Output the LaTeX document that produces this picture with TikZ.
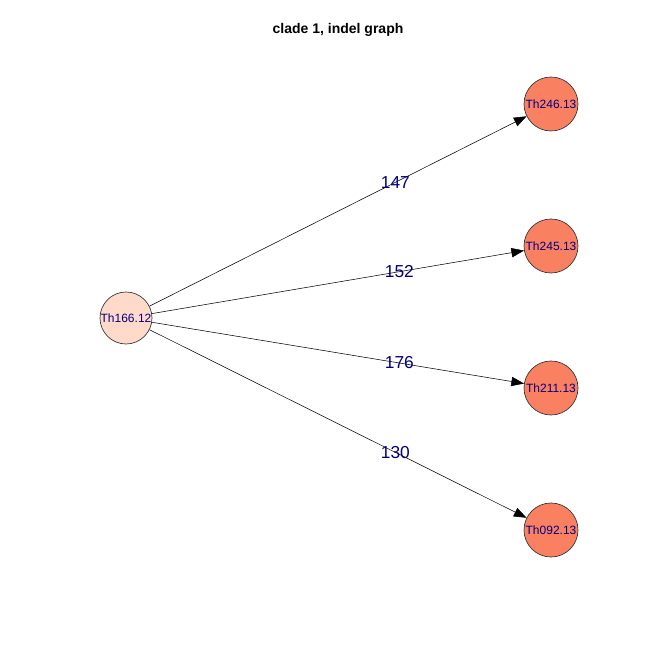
\documentclass[tikz,border=0pt]{standalone}
\usepackage{fontspec}
\setmainfont{Liberation Sans}
\usepackage{tikz}
\usetikzlibrary{arrows.meta}
\definecolor{labelnavy}{HTML}{000080}
\definecolor{rootfill}{HTML}{FFDACA}
\definecolor{leaffill}{HTML}{FA8062}

\begin{document}
\begin{tikzpicture}[
    x=0.75pt, y=0.75pt,
    vert/.style={circle, draw=black!80, line width=0.5pt, inner sep=0pt,
                 font=\fontsize{9}{10}\selectfont, text=labelnavy},
    root/.style={vert, fill=rootfill, minimum size=39pt},
    leaf/.style={vert, fill=leaffill, minimum size=40.5pt},
    arr/.style={-{Triangle[length=9.5pt, width=7pt]}, line width=0.4pt, black},
    elab/.style={font=\fontsize{13}{14}\selectfont, text=labelnavy, inner sep=0pt},
  ]
  \useasboundingbox (0,0) rectangle (648,648);
  \node[font=\bfseries\fontsize{10.5}{12}\selectfont] (title) at (338,618) {clade 1, indel graph};
  \node[root] (th166) at (126,330) {Th166.12};
  \node[leaf] (th246) at (551,544) {Th246.13};
  \node[leaf] (th245) at (551,402) {Th245.13};
  \node[leaf] (th211) at (551,260) {Th211.13};
  \node[leaf] (th092) at (551,118) {Th092.13};
  \draw[arr] (th166) -- node[elab, pos=0.652] {147} (th246);
  \draw[arr] (th166) -- node[elab, pos=0.665] {152} (th245);
  \draw[arr] (th166) -- node[elab, pos=0.665] {176} (th211);
  \draw[arr] (th166) -- node[elab, pos=0.652] {130} (th092);
\end{tikzpicture}
\end{document}
